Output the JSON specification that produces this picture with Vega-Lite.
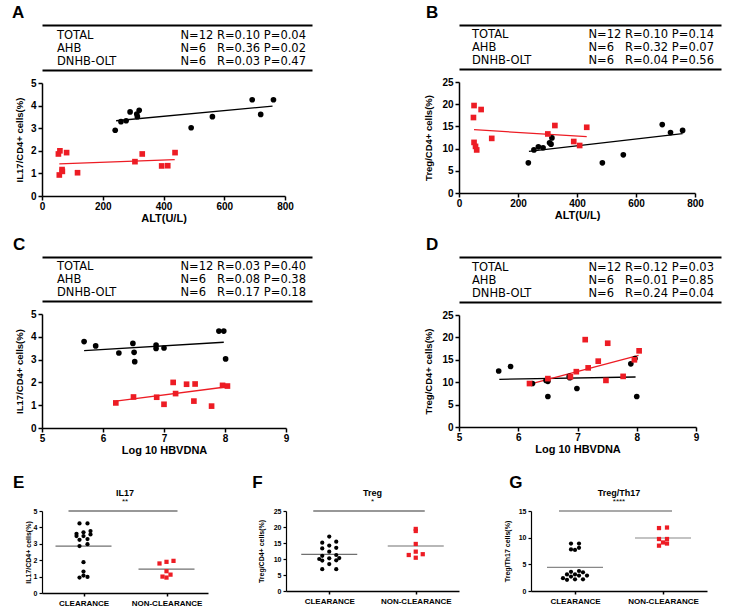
{
"$schema": "https://vega.github.io/schema/vega-lite/v6.json",
"background": "white",
"padding": {"left": 12, "top": 4, "right": 2, "bottom": 2},
"config": {
  "font": "Liberation Sans",
  "view": {"stroke": null},
  "axis": {"grid": false, "domainColor": "black", "domainWidth": 1.5, "tickColor": "black", "tickWidth": 1.5, "tickSize": 4, "labelColor": "black", "labelFontWeight": "bold", "labelFontSize": 10, "labelPadding": 2, "labelFlush": false, "labelOverlap": false, "titleColor": "black", "titleFontWeight": "bold", "titleFontSize": 11},
  "axisX": {"labelPadding": 1, "titlePadding": 1},
  "title": {"color": "black", "font": "Liberation Sans", "subtitleColor": "black", "subtitleFont": "Liberation Sans"}
},
"datasets": {
  "tblA": [{"label": "TOTAL", "stats": "N=12 R=0.10 P=0.04"}, {"label": "AHB", "stats": "N=6\u00a0\u00a0\u00a0R=0.36 P=0.02"}, {"label": "DNHB-OLT", "stats": "N=6\u00a0\u00a0\u00a0R=0.03 P=0.47"}],
  "tblB": [{"label": "TOTAL", "stats": "N=12 R=0.10 P=0.14"}, {"label": "AHB", "stats": "N=6\u00a0\u00a0\u00a0R=0.32 P=0.07"}, {"label": "DNHB-OLT", "stats": "N=6\u00a0\u00a0\u00a0R=0.04 P=0.56"}],
  "tblC": [{"label": "TOTAL", "stats": "N=12 R=0.03 P=0.40"}, {"label": "AHB", "stats": "N=6\u00a0\u00a0\u00a0R=0.08 P=0.38"}, {"label": "DNHB-OLT", "stats": "N=6\u00a0\u00a0\u00a0R=0.17 P=0.18"}],
  "tblD": [{"label": "TOTAL", "stats": "N=12 R=0.12 P=0.03"}, {"label": "AHB", "stats": "N=6\u00a0\u00a0\u00a0R=0.01 P=0.85"}, {"label": "DNHB-OLT", "stats": "N=6\u00a0\u00a0\u00a0R=0.24 P=0.04"}],
  "ptsA": [
    {"alt": 241, "pct": 2.91, "g": "AHB"}, {"alt": 260, "pct": 3.29, "g": "AHB"}, {"alt": 277, "pct": 3.33, "g": "AHB"}, {"alt": 290, "pct": 3.72, "g": "AHB"}, {"alt": 312, "pct": 3.63, "g": "AHB"}, {"alt": 314, "pct": 3.51, "g": "AHB"}, {"alt": 320, "pct": 3.79, "g": "AHB"}, {"alt": 491, "pct": 3.02, "g": "AHB"}, {"alt": 561, "pct": 3.51, "g": "AHB"}, {"alt": 692, "pct": 4.26, "g": "AHB"}, {"alt": 720, "pct": 3.61, "g": "AHB"}, {"alt": 762, "pct": 4.26, "g": "AHB"},
    {"alt": 54, "pct": 1.86, "g": "DNHB-OLT"}, {"alt": 59, "pct": 2.0, "g": "DNHB-OLT"}, {"alt": 81, "pct": 1.92, "g": "DNHB-OLT"}, {"alt": 57, "pct": 0.93, "g": "DNHB-OLT"}, {"alt": 66, "pct": 1.17, "g": "DNHB-OLT"}, {"alt": 67, "pct": 1.09, "g": "DNHB-OLT"}, {"alt": 117, "pct": 1.03, "g": "DNHB-OLT"}, {"alt": 306, "pct": 1.52, "g": "DNHB-OLT"}, {"alt": 330, "pct": 1.86, "g": "DNHB-OLT"}, {"alt": 394, "pct": 1.33, "g": "DNHB-OLT"}, {"alt": 414, "pct": 1.34, "g": "DNHB-OLT"}, {"alt": 438, "pct": 1.92, "g": "DNHB-OLT"}
  ],
  "fitA": [{"alt": 244, "pct": 3.33, "g": "AHB"}, {"alt": 759, "pct": 3.98, "g": "AHB"}, {"alt": 57, "pct": 1.42, "g": "DNHB-OLT"}, {"alt": 437, "pct": 1.61, "g": "DNHB-OLT"}],
  "ptsB": [
    {"alt": 235, "pct": 6.8, "g": "AHB"}, {"alt": 254, "pct": 9.7, "g": "AHB"}, {"alt": 269, "pct": 10.4, "g": "AHB"}, {"alt": 285, "pct": 10.2, "g": "AHB"}, {"alt": 307, "pct": 11.3, "g": "AHB"}, {"alt": 312, "pct": 11.0, "g": "AHB"}, {"alt": 315, "pct": 12.4, "g": "AHB"}, {"alt": 486, "pct": 6.8, "g": "AHB"}, {"alt": 557, "pct": 8.6, "g": "AHB"}, {"alt": 689, "pct": 15.4, "g": "AHB"}, {"alt": 717, "pct": 13.6, "g": "AHB"}, {"alt": 758, "pct": 14.1, "g": "AHB"},
    {"alt": 51, "pct": 19.7, "g": "DNHB-OLT"}, {"alt": 75, "pct": 18.8, "g": "DNHB-OLT"}, {"alt": 49, "pct": 17.0, "g": "DNHB-OLT"}, {"alt": 51, "pct": 11.4, "g": "DNHB-OLT"}, {"alt": 56, "pct": 10.5, "g": "DNHB-OLT"}, {"alt": 60, "pct": 9.7, "g": "DNHB-OLT"}, {"alt": 111, "pct": 12.3, "g": "DNHB-OLT"}, {"alt": 301, "pct": 13.3, "g": "DNHB-OLT"}, {"alt": 325, "pct": 15.2, "g": "DNHB-OLT"}, {"alt": 389, "pct": 11.6, "g": "DNHB-OLT"}, {"alt": 409, "pct": 10.7, "g": "DNHB-OLT"}, {"alt": 433, "pct": 14.8, "g": "DNHB-OLT"}
  ],
  "fitB": [{"alt": 237, "pct": 9.38, "g": "AHB"}, {"alt": 758, "pct": 13.36, "g": "AHB"}, {"alt": 51, "pct": 14.26, "g": "DNHB-OLT"}, {"alt": 433, "pct": 12.69, "g": "DNHB-OLT"}],
  "ptsC": [
    {"hbv": 5.69, "pct": 3.79, "g": "AHB"}, {"hbv": 5.88, "pct": 3.60, "g": "AHB"}, {"hbv": 6.26, "pct": 3.29, "g": "AHB"}, {"hbv": 6.49, "pct": 3.71, "g": "AHB"}, {"hbv": 6.51, "pct": 3.32, "g": "AHB"}, {"hbv": 6.52, "pct": 2.91, "g": "AHB"}, {"hbv": 6.87, "pct": 3.64, "g": "AHB"}, {"hbv": 6.87, "pct": 3.49, "g": "AHB"}, {"hbv": 7.0, "pct": 3.51, "g": "AHB"}, {"hbv": 7.90, "pct": 4.25, "g": "AHB"}, {"hbv": 7.98, "pct": 4.25, "g": "AHB"}, {"hbv": 8.01, "pct": 3.03, "g": "AHB"},
    {"hbv": 6.21, "pct": 1.10, "g": "DNHB-OLT"}, {"hbv": 6.50, "pct": 1.36, "g": "DNHB-OLT"}, {"hbv": 6.88, "pct": 1.35, "g": "DNHB-OLT"}, {"hbv": 7.0, "pct": 1.04, "g": "DNHB-OLT"}, {"hbv": 7.15, "pct": 2.0, "g": "DNHB-OLT"}, {"hbv": 7.19, "pct": 1.51, "g": "DNHB-OLT"}, {"hbv": 7.37, "pct": 1.92, "g": "DNHB-OLT"}, {"hbv": 7.51, "pct": 1.93, "g": "DNHB-OLT"}, {"hbv": 7.49, "pct": 1.18, "g": "DNHB-OLT"}, {"hbv": 7.78, "pct": 0.96, "g": "DNHB-OLT"}, {"hbv": 7.96, "pct": 1.87, "g": "DNHB-OLT"}, {"hbv": 8.04, "pct": 1.84, "g": "DNHB-OLT"}
  ],
  "fitC": [{"hbv": 5.69, "pct": 3.39, "g": "AHB"}, {"hbv": 7.98, "pct": 3.76, "g": "AHB"}, {"hbv": 6.21, "pct": 1.18, "g": "DNHB-OLT"}, {"hbv": 8.04, "pct": 1.81, "g": "DNHB-OLT"}],
  "ptsD": [
    {"hbv": 5.67, "pct": 12.5, "g": "AHB"}, {"hbv": 5.87, "pct": 13.5, "g": "AHB"}, {"hbv": 6.24, "pct": 9.7, "g": "AHB"}, {"hbv": 6.47, "pct": 10.4, "g": "AHB"}, {"hbv": 6.50, "pct": 10.2, "g": "AHB"}, {"hbv": 6.50, "pct": 6.8, "g": "AHB"}, {"hbv": 6.86, "pct": 11.3, "g": "AHB"}, {"hbv": 6.87, "pct": 11.0, "g": "AHB"}, {"hbv": 6.99, "pct": 8.6, "g": "AHB"}, {"hbv": 7.90, "pct": 14.1, "g": "AHB"}, {"hbv": 7.97, "pct": 15.3, "g": "AHB"}, {"hbv": 8.0, "pct": 6.8, "g": "AHB"},
    {"hbv": 6.19, "pct": 9.7, "g": "DNHB-OLT"}, {"hbv": 6.50, "pct": 10.8, "g": "DNHB-OLT"}, {"hbv": 6.88, "pct": 11.2, "g": "DNHB-OLT"}, {"hbv": 6.98, "pct": 12.35, "g": "DNHB-OLT"}, {"hbv": 7.13, "pct": 19.5, "g": "DNHB-OLT"}, {"hbv": 7.18, "pct": 13.2, "g": "DNHB-OLT"}, {"hbv": 7.35, "pct": 14.7, "g": "DNHB-OLT"}, {"hbv": 7.51, "pct": 18.7, "g": "DNHB-OLT"}, {"hbv": 7.48, "pct": 10.4, "g": "DNHB-OLT"}, {"hbv": 7.77, "pct": 11.3, "g": "DNHB-OLT"}, {"hbv": 7.96, "pct": 15.0, "g": "DNHB-OLT"}, {"hbv": 8.04, "pct": 17.0, "g": "DNHB-OLT"}
  ],
  "fitD": [{"hbv": 5.68, "pct": 10.64, "g": "AHB"}, {"hbv": 7.98, "pct": 11.16, "g": "AHB"}, {"hbv": 6.18, "pct": 9.52, "g": "DNHB-OLT"}, {"hbv": 8.03, "pct": 16.0, "g": "DNHB-OLT"}],
  "ptsE": [
    {"status": "CLEARANCE", "value": 4.24}, {"status": "CLEARANCE", "value": 4.24}, {"status": "CLEARANCE", "value": 3.78}, {"status": "CLEARANCE", "value": 3.70}, {"status": "CLEARANCE", "value": 3.61}, {"status": "CLEARANCE", "value": 3.57}, {"status": "CLEARANCE", "value": 3.47}, {"status": "CLEARANCE", "value": 3.47}, {"status": "CLEARANCE", "value": 3.29}, {"status": "CLEARANCE", "value": 3.24}, {"status": "CLEARANCE", "value": 2.98}, {"status": "CLEARANCE", "value": 2.86}, {"status": "CLEARANCE", "value": 1.88}, {"status": "CLEARANCE", "value": 1.31}, {"status": "CLEARANCE", "value": 1.06}, {"status": "CLEARANCE", "value": 0.98}, {"status": "CLEARANCE", "value": 0.94},
    {"status": "NON-CLEARANCE", "value": 1.96}, {"status": "NON-CLEARANCE", "value": 1.90}, {"status": "NON-CLEARANCE", "value": 1.80}, {"status": "NON-CLEARANCE", "value": 1.33}, {"status": "NON-CLEARANCE", "value": 1.12}, {"status": "NON-CLEARANCE", "value": 0.94}, {"status": "NON-CLEARANCE", "value": 1.00}
  ],
  "meanE": [{"status": "CLEARANCE", "value": 2.86}, {"status": "NON-CLEARANCE", "value": 1.45}],
  "sigE": [{"status": "CLEARANCE", "status_to": "NON-CLEARANCE", "value": 5, "sig": "**"}],
  "ptsF": [
    {"status": "CLEARANCE", "value": 17.0}, {"status": "CLEARANCE", "value": 15.4}, {"status": "CLEARANCE", "value": 15.1}, {"status": "CLEARANCE", "value": 14.2}, {"status": "CLEARANCE", "value": 13.3}, {"status": "CLEARANCE", "value": 13.5}, {"status": "CLEARANCE", "value": 12.3}, {"status": "CLEARANCE", "value": 11.25}, {"status": "CLEARANCE", "value": 11.0}, {"status": "CLEARANCE", "value": 10.3}, {"status": "CLEARANCE", "value": 10.2}, {"status": "CLEARANCE", "value": 10.0}, {"status": "CLEARANCE", "value": 9.6}, {"status": "CLEARANCE", "value": 9.5}, {"status": "CLEARANCE", "value": 8.4}, {"status": "CLEARANCE", "value": 6.8}, {"status": "CLEARANCE", "value": 6.8},
    {"status": "NON-CLEARANCE", "value": 19.4}, {"status": "NON-CLEARANCE", "value": 18.75}, {"status": "NON-CLEARANCE", "value": 14.7}, {"status": "NON-CLEARANCE", "value": 12.3}, {"status": "NON-CLEARANCE", "value": 11.5}, {"status": "NON-CLEARANCE", "value": 11.25}, {"status": "NON-CLEARANCE", "value": 10.4}
  ],
  "meanF": [{"status": "CLEARANCE", "value": 11.46}, {"status": "NON-CLEARANCE", "value": 14.06}],
  "sigF": [{"status": "CLEARANCE", "status_to": "NON-CLEARANCE", "value": 25, "sig": "*"}],
  "ptsG": [
    {"status": "CLEARANCE", "value": 8.9}, {"status": "CLEARANCE", "value": 8.9}, {"status": "CLEARANCE", "value": 8.1}, {"status": "CLEARANCE", "value": 7.8}, {"status": "CLEARANCE", "value": 7.7}, {"status": "CLEARANCE", "value": 3.75}, {"status": "CLEARANCE", "value": 3.6}, {"status": "CLEARANCE", "value": 3.5}, {"status": "CLEARANCE", "value": 3.1}, {"status": "CLEARANCE", "value": 3.1}, {"status": "CLEARANCE", "value": 2.9}, {"status": "CLEARANCE", "value": 2.9}, {"status": "CLEARANCE", "value": 2.7}, {"status": "CLEARANCE", "value": 2.4}, {"status": "CLEARANCE", "value": 2.2}, {"status": "CLEARANCE", "value": 2.2}, {"status": "CLEARANCE", "value": 2.1},
    {"status": "NON-CLEARANCE", "value": 11.8}, {"status": "NON-CLEARANCE", "value": 11.9}, {"status": "NON-CLEARANCE", "value": 9.75}, {"status": "NON-CLEARANCE", "value": 9.75}, {"status": "NON-CLEARANCE", "value": 9.1}, {"status": "NON-CLEARANCE", "value": 8.9}, {"status": "NON-CLEARANCE", "value": 8.5}
  ],
  "meanG": [{"status": "CLEARANCE", "value": 4.44}, {"status": "NON-CLEARANCE", "value": 9.94}],
  "sigG": [{"status": "CLEARANCE", "status_to": "NON-CLEARANCE", "value": 15, "sig": "****"}]
},
"columns": 1,
"align": "none",
"spacing": 19,
"concat": [
 {"spacing": 13, "vconcat": [
 {"spacing": 111, "hconcat": [
  {"spacing": 8, "vconcat": [
   {"width": 270, "height": 45,
    "title": {"text": "A", "anchor": "start", "fontSize": 17, "fontWeight": "bold", "dx": -30, "offset": 3},
    "data": {"name": "tblA"},
    "encoding": {"y": {"field": "label", "type": "nominal", "scale": {"type": "band", "domain": ["TOTAL", "AHB", "DNHB-OLT"], "paddingInner": 0, "paddingOuter": 0.2, "align": 0.75}, "axis": null}},
    "layer": [
     {"mark": {"type": "text", "align": "left", "baseline": "middle", "font": "DejaVu Sans", "fontSize": 11.5, "dx": 15},
      "encoding": {"x": {"datum": "label", "type": "nominal", "bandPosition": 0, "scale": {"type": "band", "domain": ["label", "stats"], "paddingInner": 0, "paddingOuter": 0}, "axis": {"orient": "top", "domain": true, "domainWidth": 2, "ticks": false, "labels": false, "title": null}}, "text": {"field": "label"}}},
     {"mark": {"type": "text", "align": "right", "baseline": "middle", "font": "DejaVu Sans", "fontSize": 11.5, "dx": -6},
      "encoding": {"x": {"datum": "stats", "type": "nominal", "bandPosition": 1, "axis": {"orient": "bottom", "domain": true, "domainWidth": 2, "ticks": false, "labels": false, "title": null}}, "text": {"field": "stats"}}}
    ],
    "resolve": {"axis": {"x": "independent"}}
   },
   {"width": 243, "height": 113,
    "encoding": {"x": {"field": "alt", "type": "quantitative", "scale": {"domain": [0, 800]}, "axis": {"values": [0, 200, 400, 600, 800], "title": "ALT(U/L)"}},
                 "y": {"field": "pct", "type": "quantitative", "scale": {"domain": [0, 5]}, "axis": {"values": [0, 1, 2, 3, 4, 5], "title": "IL17/CD4+ cells(%)", "titleFontSize": 9.5, "titlePadding": 6}},
                 "color": {"field": "g", "type": "nominal", "scale": {"domain": ["AHB", "DNHB-OLT"], "range": ["black", "#ed1c24"]}, "legend": null}},
    "layer": [
     {"data": {"name": "fitA"}, "mark": {"type": "line", "strokeWidth": 1.3}},
     {"data": {"name": "ptsA"}, "mark": {"type": "point", "filled": true, "opacity": 1, "size": 32},
      "encoding": {"shape": {"field": "g", "type": "nominal", "scale": {"domain": ["AHB", "DNHB-OLT"], "range": ["circle", "square"]}, "legend": null}}}
    ]
   }
  ]},
  {"spacing": 8, "vconcat": [
   {"width": 262, "height": 44,
    "title": {"text": "B", "anchor": "start", "fontSize": 17, "fontWeight": "bold", "dx": -33, "offset": 3},
    "data": {"name": "tblB"},
    "encoding": {"y": {"field": "label", "type": "nominal", "scale": {"type": "band", "domain": ["TOTAL", "AHB", "DNHB-OLT"], "paddingInner": 0, "paddingOuter": 0.2, "align": 0.75}, "axis": null}},
    "layer": [
     {"mark": {"type": "text", "align": "left", "baseline": "middle", "font": "DejaVu Sans", "fontSize": 11.5, "dx": 13},
      "encoding": {"x": {"datum": "label", "type": "nominal", "bandPosition": 0, "scale": {"type": "band", "domain": ["label", "stats"], "paddingInner": 0, "paddingOuter": 0}, "axis": {"orient": "top", "domain": true, "domainWidth": 2, "ticks": false, "labels": false, "title": null}}, "text": {"field": "label"}}},
     {"mark": {"type": "text", "align": "right", "baseline": "middle", "font": "DejaVu Sans", "fontSize": 11.5, "dx": -7},
      "encoding": {"x": {"datum": "stats", "type": "nominal", "bandPosition": 1, "axis": {"orient": "bottom", "domain": true, "domainWidth": 2, "ticks": false, "labels": false, "title": null}}, "text": {"field": "stats"}}}
    ],
    "resolve": {"axis": {"x": "independent"}}
   },
   {"width": 236, "height": 111,
    "encoding": {"x": {"field": "alt", "type": "quantitative", "scale": {"domain": [0, 800]}, "axis": {"values": [0, 200, 400, 600, 800], "title": "ALT(U/L)"}},
                 "y": {"field": "pct", "type": "quantitative", "scale": {"domain": [0, 25]}, "axis": {"values": [0, 5, 10, 15, 20, 25], "title": "Treg/CD4+ cells(%)", "titleFontSize": 9.5, "titlePadding": 8}},
                 "color": {"field": "g", "type": "nominal", "scale": {"domain": ["AHB", "DNHB-OLT"], "range": ["black", "#ed1c24"]}, "legend": null}},
    "layer": [
     {"data": {"name": "fitB"}, "mark": {"type": "line", "strokeWidth": 1.3}},
     {"data": {"name": "ptsB"}, "mark": {"type": "point", "filled": true, "opacity": 1, "size": 32},
      "encoding": {"shape": {"field": "g", "type": "nominal", "scale": {"domain": ["AHB", "DNHB-OLT"], "range": ["circle", "square"]}, "legend": null}}}
    ]
   }
  ]}
 ]},
 {"spacing": 111, "hconcat": [
  {"spacing": 8, "vconcat": [
   {"width": 270, "height": 44,
    "title": {"text": "C", "anchor": "start", "fontSize": 17, "fontWeight": "bold", "dx": -29, "offset": 3},
    "data": {"name": "tblC"},
    "encoding": {"y": {"field": "label", "type": "nominal", "scale": {"type": "band", "domain": ["TOTAL", "AHB", "DNHB-OLT"], "paddingInner": 0, "paddingOuter": 0.2, "align": 0.75}, "axis": null}},
    "layer": [
     {"mark": {"type": "text", "align": "left", "baseline": "middle", "font": "DejaVu Sans", "fontSize": 11.5, "dx": 15},
      "encoding": {"x": {"datum": "label", "type": "nominal", "bandPosition": 0, "scale": {"type": "band", "domain": ["label", "stats"], "paddingInner": 0, "paddingOuter": 0}, "axis": {"orient": "top", "domain": true, "domainWidth": 2, "ticks": false, "labels": false, "title": null}}, "text": {"field": "label"}}},
     {"mark": {"type": "text", "align": "right", "baseline": "middle", "font": "DejaVu Sans", "fontSize": 11.5, "dx": -6},
      "encoding": {"x": {"datum": "stats", "type": "nominal", "bandPosition": 1, "axis": {"orient": "bottom", "domain": true, "domainWidth": 2, "ticks": false, "labels": false, "title": null}}, "text": {"field": "stats"}}}
    ],
    "resolve": {"axis": {"x": "independent"}}
   },
   {"width": 244, "height": 114,
    "encoding": {"x": {"field": "hbv", "type": "quantitative", "scale": {"domain": [5, 9]}, "axis": {"values": [5, 6, 7, 8, 9], "format": "d", "title": "Log 10 HBVDNA"}},
                 "y": {"field": "pct", "type": "quantitative", "scale": {"domain": [0, 5]}, "axis": {"values": [0, 1, 2, 3, 4, 5], "title": "IL17/CD4+ cells(%)", "titleFontSize": 9.5, "titlePadding": 6}},
                 "color": {"field": "g", "type": "nominal", "scale": {"domain": ["AHB", "DNHB-OLT"], "range": ["black", "#ed1c24"]}, "legend": null}},
    "layer": [
     {"data": {"name": "fitC"}, "mark": {"type": "line", "strokeWidth": 1.3}},
     {"data": {"name": "ptsC"}, "mark": {"type": "point", "filled": true, "opacity": 1, "size": 32},
      "encoding": {"shape": {"field": "g", "type": "nominal", "scale": {"domain": ["AHB", "DNHB-OLT"], "range": ["circle", "square"]}, "legend": null}}}
    ]
   }
  ]},
  {"spacing": 8, "vconcat": [
   {"width": 262, "height": 45,
    "title": {"text": "D", "anchor": "start", "fontSize": 17, "fontWeight": "bold", "dx": -33, "offset": 3},
    "data": {"name": "tblD"},
    "encoding": {"y": {"field": "label", "type": "nominal", "scale": {"type": "band", "domain": ["TOTAL", "AHB", "DNHB-OLT"], "paddingInner": 0, "paddingOuter": 0.2, "align": 0.75}, "axis": null}},
    "layer": [
     {"mark": {"type": "text", "align": "left", "baseline": "middle", "font": "DejaVu Sans", "fontSize": 11.5, "dx": 13},
      "encoding": {"x": {"datum": "label", "type": "nominal", "bandPosition": 0, "scale": {"type": "band", "domain": ["label", "stats"], "paddingInner": 0, "paddingOuter": 0}, "axis": {"orient": "top", "domain": true, "domainWidth": 2, "ticks": false, "labels": false, "title": null}}, "text": {"field": "label"}}},
     {"mark": {"type": "text", "align": "right", "baseline": "middle", "font": "DejaVu Sans", "fontSize": 11.5, "dx": -7},
      "encoding": {"x": {"datum": "stats", "type": "nominal", "bandPosition": 1, "axis": {"orient": "bottom", "domain": true, "domainWidth": 2, "ticks": false, "labels": false, "title": null}}, "text": {"field": "stats"}}}
    ],
    "resolve": {"axis": {"x": "independent"}}
   },
   {"width": 237, "height": 112,
    "encoding": {"x": {"field": "hbv", "type": "quantitative", "scale": {"domain": [5, 9]}, "axis": {"values": [5, 6, 7, 8, 9], "format": "d", "title": "Log 10 HBVDNA"}},
                 "y": {"field": "pct", "type": "quantitative", "scale": {"domain": [0, 25]}, "axis": {"values": [0, 5, 10, 15, 20, 25], "title": "Treg/CD4+ cells(%)", "titleFontSize": 9.5, "titlePadding": 8}},
                 "color": {"field": "g", "type": "nominal", "scale": {"domain": ["AHB", "DNHB-OLT"], "range": ["black", "#ed1c24"]}, "legend": null}},
    "layer": [
     {"data": {"name": "fitD"}, "mark": {"type": "line", "strokeWidth": 1.3}},
     {"data": {"name": "ptsD"}, "mark": {"type": "point", "filled": true, "opacity": 1, "size": 32},
      "encoding": {"shape": {"field": "g", "type": "nominal", "scale": {"domain": ["AHB", "DNHB-OLT"], "range": ["circle", "square"]}, "legend": null}}}
    ]
   }
  ]}
 ]}
 ]},
 {"spacing": 44, "hconcat": [
  {"title": {"text": "E", "anchor": "start", "fontSize": 17, "fontWeight": "bold", "dx": -11, "offset": -3},
   "vconcat": [
    {"width": 166, "height": 82,
     "title": {"text": "IL17", "subtitle": "**", "fontSize": 9, "fontWeight": "bold", "subtitleFontSize": 8, "subtitlePadding": 0, "offset": 1, "anchor": "middle"},
     "encoding": {"x": {"field": "status", "type": "nominal", "scale": {"type": "point", "domain": ["CLEARANCE", "NON-CLEARANCE"], "padding": 0.5}, "axis": {"title": null, "labelAngle": 0, "labelFontSize": 8, "tickSize": 3, "labelPadding": 3}},
                  "y": {"field": "value", "type": "quantitative", "scale": {"domain": [0, 5]}, "axis": {"values": [0, 1, 2, 3, 4, 5], "title": "IL17/CD4+ cells(%)", "titleFontSize": 7, "labelFontSize": 7, "tickSize": 3, "titlePadding": 2, "domainWidth": 1.2, "tickWidth": 1.2}}},
     "layer": [
      {"data": {"name": "sigE"}, "mark": {"type": "rule", "color": "#333", "strokeWidth": 1.2, "xOffset": -15, "x2Offset": 11}, "encoding": {"x2": {"field": "status_to"}}},
      {"data": {"name": "meanE"}, "mark": {"type": "tick", "orient": "horizontal", "size": 56, "thickness": 1.2, "color": "#333"}},
      {"data": {"name": "ptsE"},
       "transform": [
        {"bin": {"step": 0.2}, "field": "value", "as": "vb"},
        {"window": [{"op": "row_number", "as": "r"}], "groupby": ["status", "vb"], "sort": [{"field": "value", "order": "ascending"}]},
        {"joinaggregate": [{"op": "count", "as": "n"}], "groupby": ["status", "vb"]}
       ],
       "encoding": {"color": {"field": "status", "type": "nominal", "scale": {"domain": ["CLEARANCE", "NON-CLEARANCE"], "range": ["black", "#ed1c24"]}, "legend": null},
                    "shape": {"field": "status", "type": "nominal", "scale": {"domain": ["CLEARANCE", "NON-CLEARANCE"], "range": ["circle", "square"]}, "legend": null}},
       "layer": [
        {"transform": [{"filter": "datum.n == 1"}], "mark": {"type": "point", "filled": true, "opacity": 1, "size": 18}},
        {"transform": [{"filter": "datum.n == 2"}], "mark": {"type": "point", "filled": true, "opacity": 1, "size": 18}, "encoding": {"xOffset": {"field": "r", "type": "quantitative", "scale": {"domain": [1, 2], "range": [-4, 4]}}}},
        {"transform": [{"filter": "datum.n == 3"}], "mark": {"type": "point", "filled": true, "opacity": 1, "size": 18}, "encoding": {"xOffset": {"field": "r", "type": "quantitative", "scale": {"domain": [1, 3], "range": [-7, 7]}}}},
        {"transform": [{"filter": "datum.n >= 4"}], "mark": {"type": "point", "filled": true, "opacity": 1, "size": 18}, "encoding": {"xOffset": {"field": "r", "type": "quantitative", "scale": {"domain": [1, 4], "range": [-10, 10]}}}}
       ],
       "resolve": {"scale": {"xOffset": "independent"}}
      }
     ]
    }
   ]
  },
  {"title": {"text": "F", "anchor": "start", "fontSize": 17, "fontWeight": "bold", "dx": -5, "offset": -3},
   "vconcat": [
    {"width": 173, "height": 80,
     "title": {"text": "Treg", "subtitle": "*", "fontSize": 9, "fontWeight": "bold", "subtitleFontSize": 8, "subtitlePadding": 0, "offset": 1, "anchor": "middle"},
     "encoding": {"x": {"field": "status", "type": "nominal", "scale": {"type": "point", "domain": ["CLEARANCE", "NON-CLEARANCE"], "padding": 0.5}, "axis": {"title": null, "labelAngle": 0, "labelFontSize": 8, "tickSize": 3, "labelPadding": 3}},
                  "y": {"field": "value", "type": "quantitative", "scale": {"domain": [0, 25]}, "axis": {"values": [0, 5, 10, 15, 20, 25], "title": "Treg/CD4+ cells(%)", "titleFontSize": 7, "labelFontSize": 7, "tickSize": 3, "titlePadding": 9, "domainWidth": 1.2, "tickWidth": 1.2}}},
     "layer": [
      {"data": {"name": "sigF"}, "mark": {"type": "rule", "color": "#333", "strokeWidth": 1.2, "xOffset": -16, "x2Offset": 9}, "encoding": {"x2": {"field": "status_to"}}},
      {"data": {"name": "meanF"}, "mark": {"type": "tick", "orient": "horizontal", "size": 56, "thickness": 1.2, "color": "#333"}},
      {"data": {"name": "ptsF"},
       "transform": [
        {"bin": {"step": 1}, "field": "value", "as": "vb"},
        {"window": [{"op": "row_number", "as": "r"}], "groupby": ["status", "vb"], "sort": [{"field": "value", "order": "ascending"}]},
        {"joinaggregate": [{"op": "count", "as": "n"}], "groupby": ["status", "vb"]}
       ],
       "encoding": {"color": {"field": "status", "type": "nominal", "scale": {"domain": ["CLEARANCE", "NON-CLEARANCE"], "range": ["black", "#ed1c24"]}, "legend": null},
                    "shape": {"field": "status", "type": "nominal", "scale": {"domain": ["CLEARANCE", "NON-CLEARANCE"], "range": ["circle", "square"]}, "legend": null}},
       "layer": [
        {"transform": [{"filter": "datum.n == 1"}], "mark": {"type": "point", "filled": true, "opacity": 1, "size": 18}},
        {"transform": [{"filter": "datum.n == 2"}], "mark": {"type": "point", "filled": true, "opacity": 1, "size": 18}, "encoding": {"xOffset": {"field": "r", "type": "quantitative", "scale": {"domain": [1, 2], "range": [-7, 7]}}}},
        {"transform": [{"filter": "datum.n == 3"}], "mark": {"type": "point", "filled": true, "opacity": 1, "size": 18}, "encoding": {"xOffset": {"field": "r", "type": "quantitative", "scale": {"domain": [1, 3], "range": [-10, 10]}}}},
        {"transform": [{"filter": "datum.n >= 4"}], "mark": {"type": "point", "filled": true, "opacity": 1, "size": 18}, "encoding": {"xOffset": {"field": "r", "type": "quantitative", "scale": {"domain": [1, 4], "range": [-12, 12]}}}}
       ],
       "resolve": {"scale": {"xOffset": "independent"}}
      }
     ]
    }
   ]
  },
  {"title": {"text": "G", "anchor": "start", "fontSize": 17, "fontWeight": "bold", "dx": 6, "offset": -3},
   "vconcat": [
    {"width": 176, "height": 80,
     "title": {"text": "Treg/Th17", "subtitle": "****", "fontSize": 9, "fontWeight": "bold", "subtitleFontSize": 8, "subtitlePadding": 0, "offset": 1, "anchor": "middle"},
     "encoding": {"x": {"field": "status", "type": "nominal", "scale": {"type": "point", "domain": ["CLEARANCE", "NON-CLEARANCE"], "padding": 0.5}, "axis": {"title": null, "labelAngle": 0, "labelFontSize": 8, "tickSize": 3, "labelPadding": 3}},
                  "y": {"field": "value", "type": "quantitative", "scale": {"domain": [0, 15]}, "axis": {"values": [0, 5, 10, 15], "title": "Treg/Th17 cells(%)", "titleFontSize": 7, "labelFontSize": 7, "tickSize": 3, "titlePadding": 8, "domainWidth": 1.2, "tickWidth": 1.2}}},
     "layer": [
      {"data": {"name": "sigG"}, "mark": {"type": "rule", "color": "#555", "strokeWidth": 1.2, "xOffset": -16, "x2Offset": 9}, "encoding": {"x2": {"field": "status_to"}}},
      {"data": {"name": "meanG"}, "mark": {"type": "tick", "orient": "horizontal", "size": 56, "thickness": 1.2, "color": "#555"}},
      {"data": {"name": "ptsG"},
       "transform": [
        {"bin": {"step": 0.6}, "field": "value", "as": "vb"},
        {"window": [{"op": "row_number", "as": "r"}], "groupby": ["status", "vb"], "sort": [{"field": "value", "order": "ascending"}]},
        {"joinaggregate": [{"op": "count", "as": "n"}], "groupby": ["status", "vb"]}
       ],
       "encoding": {"color": {"field": "status", "type": "nominal", "scale": {"domain": ["CLEARANCE", "NON-CLEARANCE"], "range": ["black", "#ed1c24"]}, "legend": null},
                    "shape": {"field": "status", "type": "nominal", "scale": {"domain": ["CLEARANCE", "NON-CLEARANCE"], "range": ["circle", "square"]}, "legend": null}},
       "layer": [
        {"transform": [{"filter": "datum.n == 1"}], "mark": {"type": "point", "filled": true, "opacity": 1, "size": 18}},
        {"transform": [{"filter": "datum.n == 2"}], "mark": {"type": "point", "filled": true, "opacity": 1, "size": 18}, "encoding": {"xOffset": {"field": "r", "type": "quantitative", "scale": {"domain": [1, 2], "range": [-4, 4]}}}},
        {"transform": [{"filter": "datum.n == 3"}], "mark": {"type": "point", "filled": true, "opacity": 1, "size": 18}, "encoding": {"xOffset": {"field": "r", "type": "quantitative", "scale": {"domain": [1, 3], "range": [-8, 8]}}}},
        {"transform": [{"filter": "datum.n >= 4"}], "mark": {"type": "point", "filled": true, "opacity": 1, "size": 18}, "encoding": {"xOffset": {"field": "r", "type": "quantitative", "scale": {"domain": [1, 4], "range": [-12, 12]}}}}
       ],
       "resolve": {"scale": {"xOffset": "independent"}}
      }
     ]
    }
   ]
  }
 ]}
]
}
